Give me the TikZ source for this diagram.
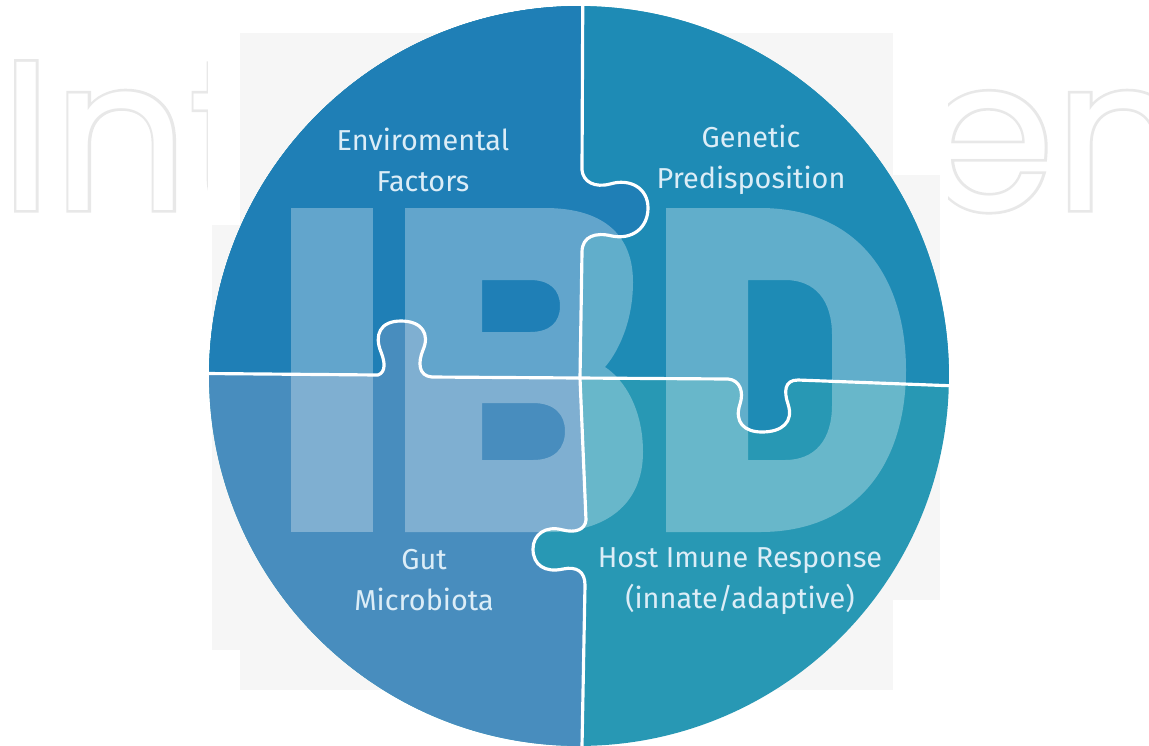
\documentclass[tikz,border=0pt]{standalone}
\usepackage{fontspec}
\newfontfamily\labelfont{Fira Sans}
\font\markgrey="Poppins:embolden=2.5" at 121pt
\font\markwhite="Poppins" at 121pt

\definecolor{envblue}{HTML}{1F7FB6}
\definecolor{geneblue}{HTML}{1E8BB5}
\definecolor{gutblue}{HTML}{488DBE}
\definecolor{hostblue}{HTML}{2898B4}
\definecolor{labeltext}{HTML}{DCEDF7}
\definecolor{markline}{HTML}{E8E8E8}
\definecolor{backgrey}{HTML}{F6F6F6}

% puzzle cuts, in pixel units
\newcommand{\hcut}{(150,373) -- (378,375) .. controls (386,372) and (385,362) .. (381,352) .. controls (374,335) and (380,321) .. (401,321) .. controls (422,321) and (430,334) .. (423,350) .. controls (418,362) and (418,376) .. (432,377) -- (580,378) -- (728,379) .. controls (740,380) and (744,392) .. (740,404) .. controls (734,422) and (744,432) .. (762,432) .. controls (782,432) and (794,422) .. (788,404) .. controls (784,392) and (784,380) .. (798,380) -- (1010,388)}
\newcommand{\vcut}{(583,-50) -- (582,170) .. controls (583,182) and (595,188) .. (610,184) .. controls (630,178) and (648,188) .. (648,208) .. controls (648,228) and (632,240) .. (612,236) .. controls (596,232) and (582,236) .. (582,252) -- (580,378) -- (586,520) .. controls (585,530) and (575,533) .. (563,530) .. controls (545,525) and (533,535) .. (533,549) .. controls (533,565) and (545,573) .. (563,569) .. controls (577,566) and (585,572) .. (585,585) -- (581,800)}

\tikzset{
  cutline/.style={draw=white, line width=1.8pt, line cap=round, line join=round},
  piecelabel/.style={text=labeltext, align=center, inner sep=0pt,
    font=\labelfont\fontsize{16.4}{23.5}\selectfont},
  letterfill/.style={fill=white, fill opacity=0.3, even odd rule},
  markback/.style={anchor=base west, inner sep=0pt, text=markline},
  markfront/.style={anchor=base west, inner sep=0pt, text=white}
}

\begin{document}
\begin{tikzpicture}[x=0.02cm, y=-0.02cm]
        \useasboundingbox (0,0) rectangle (1149,745);

        % watermark
        \node[markback] (markleftback) at (0,210) {\markgrey Int};
        \node[markfront] (markleft) at (0,210) {\markwhite Int};
        \node[markback] (markrightback) at (922,210) {\markgrey en};
        \node[markfront] (markright) at (922,210) {\markwhite en};

        % backdrop
        \fill[white] (208,0) rectangle (948,745);
        \fill[backgrey] (240,33) rectangle (893,690);
        \fill[backgrey] (212,225) rectangle (240,650);
        \fill[backgrey] (893,175) rectangle (940,600);

        % pieces
        \begin{scope}
            \clip (579,376) circle[radius=7.4cm];
            \fill[hostblue] (100,-50) rectangle (1100,800);
            \fill[gutblue] \vcut -- (-50,800) -- (-50,-50) -- cycle;
            \begin{scope}
                \clip \hcut -- (1010,-50) -- (150,-50) -- cycle;
                \fill[geneblue] (100,-50) rectangle (1100,450);
                \fill[envblue] \vcut -- (-50,800) -- (-50,-50) -- cycle;
            \end{scope}

            % IBD letters
            \fill[letterfill] (291,208) rectangle (373,532);
            \fill[letterfill] (405,208) -- (545,208) .. controls (600,208) and (633,232) .. (633,282) .. controls (633,322) and (618,352) .. (605,367) .. controls (625,380) and (643,410) .. (643,452) .. controls (643,505) and (605,532) .. (550,532) -- (405,532) -- cycle
                (482,280) -- (530,280) .. controls (550,280) and (560,290) .. (560,306) .. controls (560,322) and (550,332) .. (530,332) -- (482,332) -- cycle
                (482,403) -- (533,403) .. controls (555,403) and (565,415) .. (565,431) .. controls (565,448) and (555,460) .. (533,460) -- (482,460) -- cycle;
            \fill[letterfill] (666,208) -- (760,208) .. controls (860,208) and (906,280) .. (906,370) .. controls (906,460) and (860,532) .. (760,532) -- (666,532) -- cycle
                (748,280) -- (785,280) .. controls (815,280) and (832,300) .. (832,335) -- (832,405) .. controls (832,440) and (815,460) .. (785,460) -- (748,460) -- cycle;

            % cuts
            \draw[cutline] \hcut;
            \draw[cutline] \vcut;
        \end{scope}

        % labels
        \node[piecelabel] (env) at (423,160) {Enviromental\\Factors};
        \node[piecelabel] (gene) at (751,160) {Genetic\\Predisposition};
        \node[piecelabel] (gut) at (424,580) {Gut\\Microbiota};
        \node[piecelabel] (host) at (740,581) {Host Imune Response\\(innate/adaptive)};
\end{tikzpicture}
\end{document}
